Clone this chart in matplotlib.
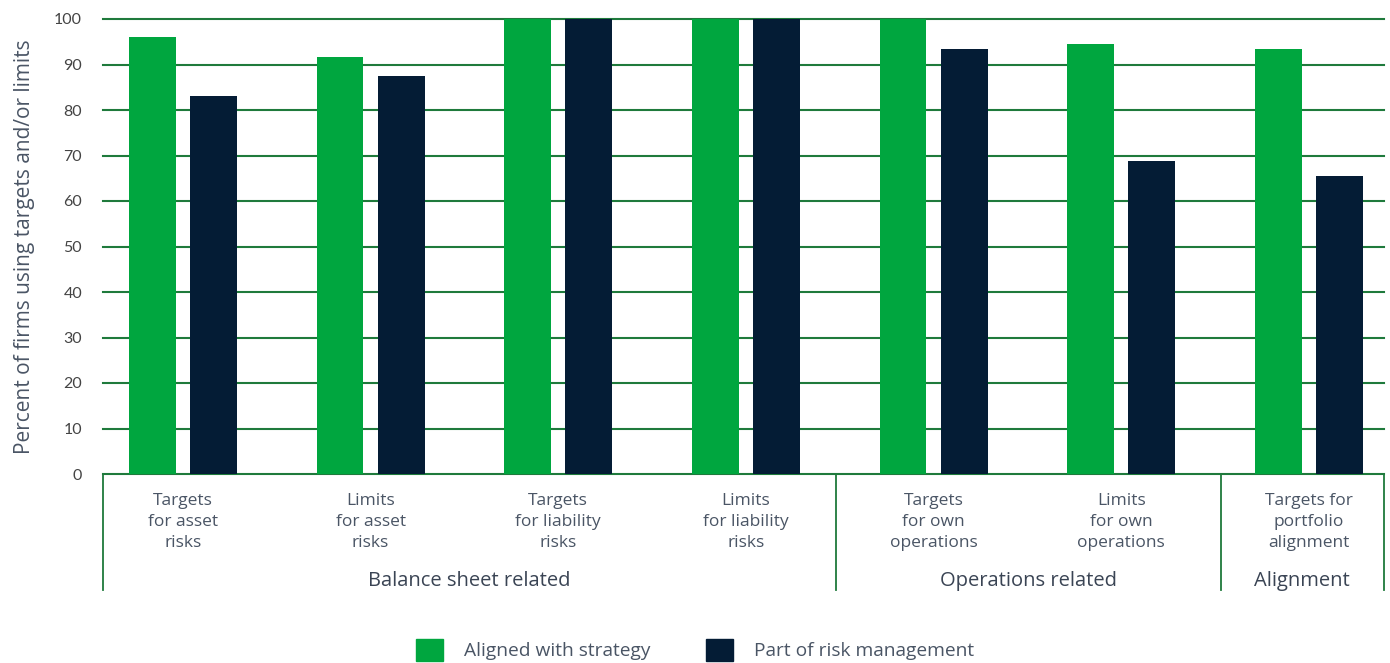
import matplotlib
matplotlib.use("Agg")
import matplotlib.pyplot as plt
import numpy as np
from matplotlib.patches import Patch
from matplotlib.transforms import blended_transform_factory

plt.rcParams["font.family"] = ["Open Sans", "DejaVu Sans"]

# data
categories = [
    "Targets\nfor asset\nrisks",
    "Limits\nfor asset\nrisks",
    "Targets\nfor liability\nrisks",
    "Limits\nfor liability\nrisks",
    "Targets\nfor own\noperations",
    "Limits\nfor own\noperations",
    "Targets for\nportfolio\nalignment",
]
aligned_with_strategy = [96.0, 91.6, 100, 100, 100, 94.5, 93.4]
part_of_risk_mgmt = [83.1, 87.5, 100, 100, 93.4, 68.8, 65.5]
groups = ["Balance sheet related", "Operations related", "Alignment"]
group_bounds = [-0.426, 3.48, 5.53, 6.40]
y_ticks = [0, 10, 20, 30, 40, 50, 60, 70, 80, 90, 100]

GREEN = "#00a63f"
NAVY = "#041c35"
LINE = "#1f7a3c"
TEXT = "#4a5565"

fig = plt.figure(figsize=(13.9, 6.63), dpi=100)
ax = fig.add_axes([103 / 1390, (663 - 474) / 663, (1384 - 103) / 1390, 455 / 663])

x = np.arange(len(categories))
w = 0.25
off = 0.163

ax.bar(x - off, aligned_with_strategy, w, color=GREEN, zorder=3, label="Aligned with strategy")
ax.bar(x + off, part_of_risk_mgmt, w, color=NAVY, zorder=3, label="Part of risk management")

ax.set_xlim(group_bounds[0], group_bounds[-1])
ax.set_ylim(0, 100)
ax.set_yticks(y_ticks)
ax.set_xticks([])
ax.tick_params(axis="y", length=0, pad=15, labelsize=11.5, labelcolor="#444444")
for lbl in ax.get_yticklabels():
    lbl.set_fontfamily(["Lato", "DejaVu Sans"])

# gridlines
for yv in y_ticks:
    ax.axhline(yv, color=LINE, lw=1.5, zorder=1, clip_on=False)

for s in ax.spines.values():
    s.set_visible(False)

ax.set_ylabel("Percent of firms using targets and/or limits", fontsize=15,
              color=TEXT, labelpad=14)

# category labels and group separators below the axis
trans = blended_transform_factory(ax.transData, ax.transAxes)
for xi, name in zip(x, categories):
    ax.text(xi, -0.042, name, transform=trans, ha="center", va="top",
            fontsize=12.5, color=TEXT, linespacing=1.4)

for b in group_bounds:
    ax.plot([b, b], [0, -0.255], transform=trans, color=LINE, lw=1.3, clip_on=False)

for i, g in enumerate(groups):
    mid = (group_bounds[i] + group_bounds[i + 1]) / 2
    ax.text(mid, -0.235, g, transform=trans, ha="center", va="center",
            fontsize=14.5, color="#3a4454")

handles = [Patch(color=GREEN, label="Aligned with strategy"),
           Patch(color=NAVY, label="Part of risk management")]
fig.legend(handles=handles, loc="center", bbox_to_anchor=(0.5, 0.02), ncol=2,
           frameon=False, fontsize=13.8, handlelength=1.4, handleheight=1.4,
           columnspacing=2.9, handletextpad=1.1, labelcolor=TEXT)

fig.savefig("out.png", dpi=100)
